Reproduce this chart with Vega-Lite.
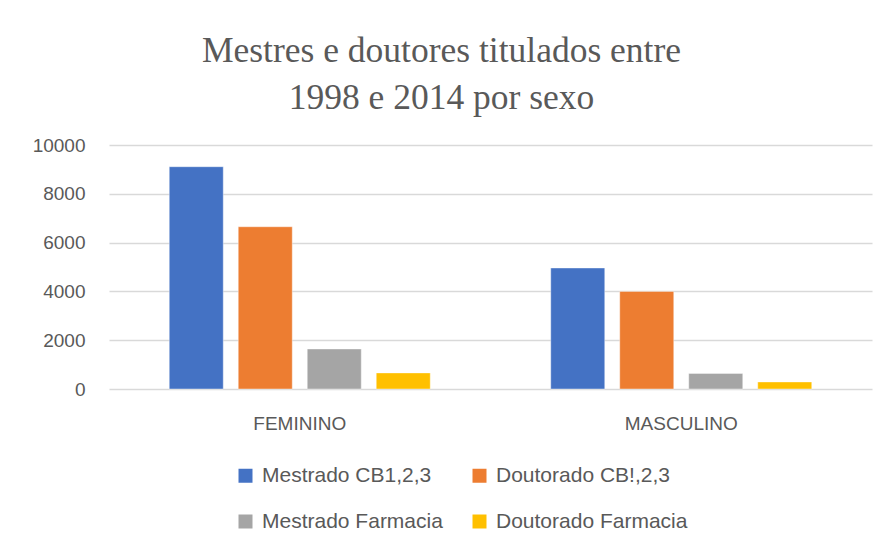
{
  "$schema": "https://vega.github.io/schema/vega-lite/v6.json",
  "width": 763,
  "height": 244,
  "autosize": {"type": "none"},
  "padding": {"left": 109, "top": 145, "right": 11, "bottom": 158},
  "background": "white",
  "title": {
    "text": ["Mestres e doutores titulados entre", "1998 e 2014 por sexo"],
    "font": "Liberation Serif",
    "fontSize": 35.5,
    "fontWeight": "normal",
    "color": "#595959",
    "lineHeight": 47,
    "anchor": "middle",
    "dx": -49,
    "offset": 20
  },
  "data": {
    "values": [
      {"sexo": "FEMININO", "tipo": "Mestrado CB1,2,3", "valor": 9110},
      {"sexo": "FEMININO", "tipo": "Doutorado CB!,2,3", "valor": 6650},
      {"sexo": "FEMININO", "tipo": "Mestrado Farmacia", "valor": 1640},
      {"sexo": "FEMININO", "tipo": "Doutorado Farmacia", "valor": 660},
      {"sexo": "MASCULINO", "tipo": "Mestrado CB1,2,3", "valor": 4960},
      {"sexo": "MASCULINO", "tipo": "Doutorado CB!,2,3", "valor": 4000},
      {"sexo": "MASCULINO", "tipo": "Mestrado Farmacia", "valor": 640},
      {"sexo": "MASCULINO", "tipo": "Doutorado Farmacia", "valor": 290}
    ]
  },
  "mark": {"type": "bar", "stroke": "white", "strokeWidth": 0.7, "strokeOpacity": 0.6},
  "encoding": {
    "x": {
      "field": "sexo",
      "type": "nominal",
      "sort": ["FEMININO", "MASCULINO"],
      "scale": {"paddingInner": 0, "paddingOuter": 0},
      "axis": {
        "title": null,
        "labelAngle": 0,
        "domain": false,
        "ticks": false,
        "tickSize": 0,
        "labelPadding": 40,
        "labelBaseline": "alphabetic",
        "labelFont": "Liberation Sans",
        "labelFontSize": 19,
        "labelColor": "#595959"
      }
    },
    "xOffset": {
      "field": "tipo",
      "type": "nominal",
      "sort": ["Mestrado CB1,2,3", "Doutorado CB!,2,3", "Mestrado Farmacia", "Doutorado Farmacia"],
      "scale": {"paddingInner": 0.217, "paddingOuter": 0.873}
    },
    "y": {
      "field": "valor",
      "type": "quantitative",
      "scale": {"domain": [0, 10000], "nice": false},
      "axis": {
        "title": null,
        "values": [0, 2000, 4000, 6000, 8000, 10000],
        "format": "d",
        "domain": false,
        "ticks": false,
        "tickSize": 0,
        "labelPadding": 24,
        "labelFont": "Liberation Sans",
        "labelFontSize": 19,
        "labelColor": "#595959",
        "grid": true,
        "gridColor": "#d9d9d9",
        "gridWidth": 1.3
      }
    },
    "color": {
      "field": "tipo",
      "type": "nominal",
      "sort": ["Mestrado CB1,2,3", "Doutorado CB!,2,3", "Mestrado Farmacia", "Doutorado Farmacia"],
      "scale": {
        "domain": ["Mestrado CB1,2,3", "Doutorado CB!,2,3", "Mestrado Farmacia", "Doutorado Farmacia"],
        "range": ["#4472C4", "#ED7D31", "#A5A5A5", "#FFC000"]
      },
      "legend": {
        "title": null,
        "orient": "none",
        "legendX": 126,
        "legendY": 320,
        "direction": "horizontal",
        "columns": 2,
        "columnPadding": 26,
        "rowPadding": 24,
        "symbolType": "square",
        "symbolSize": 196,
        "symbolStrokeWidth": 0,
        "labelOffset": 6,
        "labelFont": "Liberation Sans",
        "labelFontSize": 21,
        "labelColor": "#595959",
        "labelLimit": 400
      }
    }
  },
  "config": {
    "view": {"stroke": null}
  }
}
